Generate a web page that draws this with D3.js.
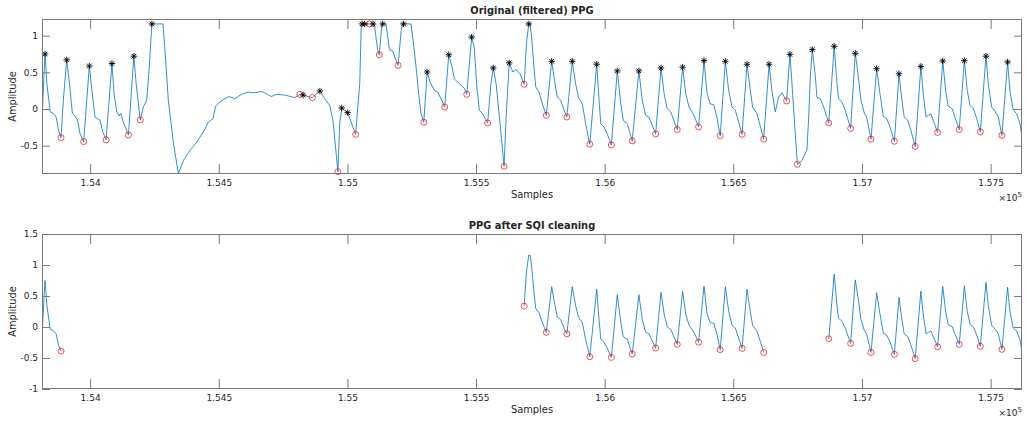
<!DOCTYPE html>
<html>
<head>
<meta charset="utf-8">
<script src="https://cdn.jsdelivr.net/npm/d3@7"></script>
<style>
  body { margin: 0; background: #fff; }
  text { font-family: "DejaVu Sans", sans-serif; fill: #262626; }
</style>
</head>
<body>
<div id="chart"></div>
<script>
// PPG signal (sample number, amplitude)
var sampleIdx = [
  153813,153821,153825,153832,153845,153857,153868,153877,153887,153896,
  153909,153920,153931,153942,153951,153961,153975,153997,154007,154019,
  154028,154039,154049,154062,154085,154093,154104,154113,154119,154129,
  154149,154170,154179,154195,154207,154220,154230,154240,154283,154291,
  154304,154324,154343,154363,154389,154415,154447,154459,154478,154488,
  154504,154523,154540,154562,154588,154614,154640,154666,154685,154705,
  154724,154757,154796,154815,154828,154847,154864,154893,154912,154931,
  154944,154955,154963,154970,154978,154990,155001,155032,155048,155054,
  155105,155111,155118,155124,155134,155150,155157,155163,155176,155186,
  155197,155209,155215,155247,155254,155267,155277,155286,155297,155310,
  155321,155338,155351,155364,155378,155394,155407,155416,155435,155455,
  155464,155483,155493,155503,155513,155526,155545,155558,155567,155578,
  155591,155609,155617,155629,155643,155655,155671,155687,155696,155705,
  155710,155716,155725,155732,155745,155758,155773,155794,155807,155816,
  155829,155842,155853,155874,155887,155898,155913,155926,155942,155969,
  155978,155985,155997,156010,156026,156049,156062,156072,156088,156107,
  156133,156146,156159,156172,156198,156219,156231,156243,156257,156282,
  156303,156315,156328,156347,156365,156386,156398,156410,156424,156436,
  156449,156469,156482,156495,156508,156534,156553,156566,156575,156592,
  156618,156639,156650,156663,156676,156689,156707,156720,156728,156739,
  156749,156767,156786,156793,156799,156807,156819,156825,156838,156851,
  156871,156892,156903,156909,156922,156935,156956,156974,156986,156996,
  157009,157018,157035,157057,157070,157083,157096,157109,157126,157144,
  157154,157164,157178,157190,157207,157229,157238,157249,157258,157268,
  157277,157294,157314,157325,157335,157351,157361,157378,157398,157409,
  157420,157433,157446,157460,157482,157491,157504,157517,157530,157544,
  157566,157575,157588,157601,157614,157621
];
var ppgAmp = [
  -0.17,0.5,0.75,0.345,-0.04,-0.06,-0.11,-0.29,-0.39,0.12,
  0.67,0.345,-0.06,-0.10,-0.155,-0.34,-0.445,0.586,0.255,-0.11,
  -0.13,-0.155,-0.31,-0.42,0.62,0.21,-0.04,-0.095,-0.06,-0.18,
  -0.355,0.72,0.345,-0.15,0.03,0.12,0.57,1.16,1.16,0.80,
  0.12,-0.47,-0.88,-0.70,-0.56,-0.45,-0.27,-0.18,-0.13,0.04,
  0.095,0.14,0.17,0.14,0.20,0.23,0.22,0.24,0.21,0.17,
  0.20,0.19,0.155,0.20,0.19,0.17,0.155,0.245,0.14,0.05,
  -0.155,-0.56,-0.855,-0.2,0.014,-0.02,-0.05,-0.345,0.345,1.16,
  1.16,0.98,0.80,0.74,1.16,1.16,0.98,0.81,0.79,0.69,
  0.595,1.07,1.16,1.16,0.98,0.57,0.21,-0.06,-0.18,0.505,
  0.37,0.255,0.23,0.14,0.027,0.74,0.57,0.41,0.345,0.28,
  0.20,0.98,0.845,0.30,-0.018,-0.064,-0.19,0.345,0.56,0.345,
  -0.11,-0.78,-0.11,0.63,0.505,0.54,0.48,0.337,0.9,1.16,
  1.16,0.98,0.57,0.30,0.23,0.07,-0.086,0.65,0.345,0.16,
  0.12,-0.018,-0.11,0.65,0.345,0.16,0.07,-0.2,-0.48,0.61,
  0.12,-0.2,-0.245,-0.34,-0.49,0.52,0.095,-0.155,-0.2,-0.435,
  0.52,0.12,-0.086,-0.11,-0.34,0.56,0.21,0.004,-0.04,-0.28,
  0.57,0.21,0.027,-0.086,-0.245,0.66,0.21,0.07,0.06,-0.11,
  -0.365,0.65,0.255,0.027,-0.018,-0.345,0.61,0.255,0.027,-0.064,
  -0.41,0.61,0.255,-0.04,0.16,0.22,0.11,0.745,0.345,-0.245,
  -0.755,-0.70,-0.56,-0.11,0.435,0.81,0.44,0.16,0.14,0.027,
  -0.19,0.855,0.345,0.14,0.095,-0.018,-0.265,0.76,0.44,0.12,
  -0.055,-0.11,-0.41,0.55,0.21,-0.10,-0.13,-0.245,-0.44,0.48,
  0.16,-0.11,-0.155,-0.29,-0.51,0.58,0.21,-0.11,-0.086,-0.064,
  -0.155,-0.32,0.655,0.255,0.037,0.004,-0.11,-0.28,0.66,0.255,
  0.05,0.004,-0.13,-0.31,0.72,0.345,0.027,-0.03,-0.11,-0.36,
  0.64,0.255,-0.018,-0.064,-0.2,-0.36
];

// Detected peaks (black asterisks)
var peakIdx = [153825,153909,153997,154085,154170,154240,154828,154893,154978,155001,
  155057,155067,155100,155137,155218,155310,155394,155483,155567,155629,
  155705,155794,155874,155969,156049,156133,156219,156303,156386,156469,
  156553,156639,156720,156807,156892,156974,157057,157144,157229,157314,
  157398,157482,157566];
var peakAmp = [0.75,0.67,0.586,0.62,0.72,1.16,0.19,0.245,0.014,-0.05,
  1.16,1.16,1.16,1.16,1.16,0.505,0.74,0.98,0.56,0.63,
  1.16,0.65,0.65,0.61,0.52,0.52,0.56,0.57,0.66,0.65,
  0.61,0.61,0.745,0.81,0.855,0.76,0.55,0.48,0.58,0.655,
  0.66,0.72,0.64];

// Detected troughs (red circles)
var troughIdx = [153887,153975,154062,154149,154195,154815,154864,154963,155032,155086,
  155124,155197,155297,155378,155464,155545,155609,155687,155773,155853,
  155942,156026,156107,156198,156282,156365,156449,156534,156618,156707,
  156749,156871,156956,157035,157126,157207,157294,157378,157460,157544];
var troughAmp = [-0.39,-0.445,-0.42,-0.355,-0.15,0.20,0.155,-0.855,-0.345,1.16,
  0.74,0.595,-0.18,0.027,0.20,-0.19,-0.78,0.337,-0.086,-0.11,
  -0.48,-0.49,-0.435,-0.34,-0.28,-0.245,-0.365,-0.345,-0.41,0.11,
  -0.755,-0.19,-0.265,-0.41,-0.44,-0.51,-0.32,-0.28,-0.31,-0.36];

// Segments kept after SQI cleaning
var keepStart = [153813, 155687, 156871];
var keepEnd = [153887, 156618, 157621];

var xTickVals = [154000,154500,155000,155500,156000,156500,157000,157500];
var xTickLabels = ["1.54","1.545","1.55","1.555","1.56","1.565","1.57","1.575"];
var topYTicks = [-0.5, 0, 0.5, 1];
var bottomYTicks = [-1, -0.5, 0, 0.5, 1, 1.5];

var width = 1027, height = 421;
var xDomain = [153813, 157622];

var svg = d3.select("#chart").append("svg")
    .attr("width", width)
    .attr("height", height);

function starPath(r) {
    var d = r * 0.72;
    return "M" + (-r) + ",0H" + r + "M0," + (-r) + "V" + r +
        "M" + (-d) + "," + (-d) + "L" + d + "," + d +
        "M" + (-d) + "," + d + "L" + d + "," + (-d);
}

function inKept(s) {
    for (var k = 0; k < keepStart.length; k += 1) {
        if (s >= keepStart[k] && s <= keepEnd[k]) return true;
    }
    return false;
}

function drawPanel(p) {
    var x = d3.scaleLinear().domain(xDomain).range([p.left, p.right]);
    var y = d3.scaleLinear().domain(p.yDomain).range([p.bottom, p.top]);
    var g = svg.append("g");

    g.append("clipPath").attr("id", p.id + "-clip")
        .append("rect")
        .attr("x", p.left).attr("y", p.top)
        .attr("width", p.right - p.left).attr("height", p.bottom - p.top);

    var line = d3.line()
        .x(function (i) { return x(sampleIdx[i]); })
        .y(function (i) { return y(ppgAmp[i]); });

    var plot = g.append("g").attr("clip-path", "url(#" + p.id + "-clip)");
    p.segments.forEach(function (seg) {
        plot.append("path")
            .attr("d", line(seg))
            .attr("fill", "none")
            .attr("stroke", "#0072BD")
            .attr("stroke-width", 0.8);
    });

    // troughs
    g.selectAll(".trough").data(p.troughs).enter().append("circle")
        .attr("class", "trough")
        .attr("cx", function (i) { return x(troughIdx[i]); })
        .attr("cy", function (i) { return y(troughAmp[i]); })
        .attr("r", 3)
        .attr("fill", "none")
        .attr("stroke", "#ff0000")
        .attr("stroke-width", 0.7);

    // peaks
    g.selectAll(".peak").data(p.peaks).enter().append("path")
        .attr("class", "peak")
        .attr("transform", function (i) {
            return "translate(" + x(peakIdx[i]) + "," + y(peakAmp[i]) + ")";
        })
        .attr("d", starPath(3.2))
        .attr("stroke", "#000")
        .attr("stroke-width", 0.9);

    // axes, ticks pointing inwards on all four sides
    var ax = g.append("g").attr("class", "axes");
    ax.append("g").attr("transform", "translate(0," + p.bottom + ")")
        .call(d3.axisBottom(x).tickValues(xTickVals).tickSizeInner(-10).tickSizeOuter(0)
            .tickPadding(6)
            .tickFormat(function (d, i) { return xTickLabels[i]; }));
    ax.append("g").attr("transform", "translate(0," + p.top + ")")
        .call(d3.axisTop(x).tickValues(xTickVals).tickSizeInner(-10).tickSizeOuter(0)
            .tickFormat(""));
    ax.append("g").attr("transform", "translate(" + p.left + ",0)")
        .call(d3.axisLeft(y).tickValues(p.yTicks).tickSizeInner(-8).tickSizeOuter(0)
            .tickPadding(4)
            .tickFormat(function (d) { return String(d); }));
    ax.append("g").attr("transform", "translate(" + p.right + ",0)")
        .call(d3.axisRight(y).tickValues(p.yTicks).tickSizeInner(-8).tickSizeOuter(0)
            .tickFormat(""));
    ax.selectAll(".domain").remove();
    ax.selectAll(".tick line").attr("stroke", "#7a7a7a");
    ax.selectAll(".tick text")
        .attr("fill", "#262626")
        .style("font-family", "DejaVu Sans")
        .style("font-size", "9px");

    g.append("rect")
        .attr("x", p.left + 0.5).attr("y", p.top + 0.5)
        .attr("width", p.right - p.left - 1).attr("height", p.bottom - p.top - 1)
        .attr("fill", "none")
        .attr("stroke", "#7a7a7a");

    // texts
    g.append("text")
        .attr("x", (p.left + p.right) / 2).attr("y", p.top - 5)
        .attr("text-anchor", "middle")
        .style("font-size", "9.9px").style("font-weight", "bold")
        .attr("fill", "#000")
        .text(p.title);
    g.append("text")
        .attr("x", (p.left + p.right) / 2).attr("y", p.bottom + 24)
        .attr("text-anchor", "middle")
        .style("font-size", "9.9px")
        .text("Samples");
    g.append("text")
        .attr("transform", "translate(" + (p.left - 26) + "," + ((p.top + p.bottom) / 2) + ")rotate(-90)")
        .attr("text-anchor", "middle")
        .style("font-size", "9.9px")
        .text("Amplitude");
    var expo = g.append("text")
        .attr("x", p.right).attr("y", p.bottom + 27)
        .attr("text-anchor", "end")
        .style("font-size", "9px");
    expo.append("tspan").text("\u00d710");
    expo.append("tspan").attr("dy", -4).style("font-size", "7px").text("5");
}

var allIdx = d3.range(sampleIdx.length);

// Top: full filtered signal
drawPanel({
    id: "top", title: "Original (filtered) PPG",
    left: 42, right: 1022, top: 19, bottom: 174,
    yDomain: [-0.886, 1.227], yTicks: topYTicks,
    segments: [allIdx],
    peaks: d3.range(peakIdx.length),
    troughs: d3.range(troughIdx.length)
});

// Bottom: only the kept segments, troughs only
var keptSegs = keepStart.map(function (s, k) {
    return allIdx.filter(function (i) {
        return sampleIdx[i] >= s && sampleIdx[i] <= keepEnd[k];
    });
});
drawPanel({
    id: "bottom", title: "PPG after SQI cleaning",
    left: 42, right: 1022, top: 234, bottom: 389,
    yDomain: [-1, 1.5], yTicks: bottomYTicks,
    segments: keptSegs,
    peaks: [],
    troughs: d3.range(troughIdx.length).filter(function (i) { return inKept(troughIdx[i]); })
});
</script>
</body>
</html>
